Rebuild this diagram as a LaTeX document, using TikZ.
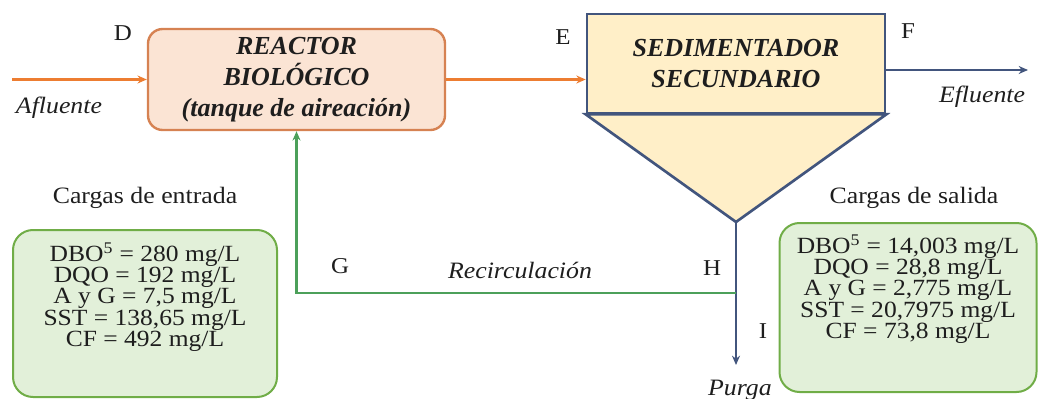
\documentclass[tikz,border=0pt]{standalone}
\usepackage{fontspec}
\setmainfont{Liberation Serif}
\newfontfamily\wide{Liberation Serif}[FakeStretch=1.1]
\usetikzlibrary{arrows.meta}
\definecolor{orangeln}{RGB}{237,125,49}
\definecolor{reactfill}{RGB}{251,228,212}
\definecolor{reactdraw}{RGB}{214,130,82}
\definecolor{sedfill}{RGB}{255,239,200}
\definecolor{seddraw}{RGB}{66,85,125}
\definecolor{boxfill}{RGB}{226,240,217}
\definecolor{boxdraw}{RGB}{112,173,71}
\definecolor{greenln}{RGB}{76,160,90}
\definecolor{txt}{RGB}{30,30,30}
\begin{document}
\lineskiplimit=-20pt\relax
\begin{tikzpicture}[x=0.75pt,y=-0.75pt,
  every node/.style={text=txt},
  unit/.style={font=\fontsize{19.5}{23}\selectfont\bfseries\itshape, align=center, inner sep=0pt},
  reactor/.style={unit, draw=reactdraw, line width=1.8pt, fill=reactfill, rounded corners=11pt,
    minimum width=222.75pt, minimum height=75.75pt},
  sedbox/.style={unit, draw=seddraw, line width=2pt, fill=sedfill,
    minimum width=223.5pt, minimum height=74.25pt},
  databox/.style={draw=boxdraw, line width=1.5pt, fill=boxfill, rounded corners=15pt},
  datatext/.style={font=\wide\fontsize{17.4}{15.9}\selectfont, align=center, inner sep=0pt},
  lbl/.style={font=\wide\fontsize{17}{18}\selectfont, inner sep=0pt},
  ilbl/.style={font=\wide\fontsize{17.6}{18}\selectfont\itshape, inner sep=0pt},
  head/.style={font=\wide\fontsize{17.6}{18}\selectfont, inner sep=0pt},
  tip/.style={-{Stealth[length=7pt,width=6pt]}},
  orangeline/.style={tip, draw=orangeln, line width=1.8pt},
  blueline/.style={tip, draw=seddraw, line width=1.9pt},
  greenline/.style={tip, draw=greenln, line width=1.8pt}
]
\useasboundingbox (0,0) rectangle (1038,399);

% units
\node[reactor] (R) at (296.5,79.5) {REACTOR\\BIOLÓGICO\\(tanque de aireación)};
\coordinate (apex) at (736,222);
\node[sedbox, text width=223.5pt] (S) at (736,63.5) {SEDIMENTADOR\\SECUNDARIO};
\draw[draw=seddraw, line width=2pt, fill=sedfill, line join=miter] (S.south west) -- (apex) -- (S.south east) -- cycle;

% flows
\coordinate (inL) at (12,79.5);
\draw[orangeline] (inL) -- (R.west);
\draw[orangeline] (R.east) -- (R.east -| S.west);
\coordinate (outF) at (1028,70);
\draw[blueline] (outF -| S.east) -- (outF);
\coordinate (purga) at (736,365);
\draw[blueline] (apex) -- (purga);
\coordinate (Hj) at (736,293);
\draw[greenline] (Hj) -| (R.south);

% point labels
\node[lbl] (lD) at (123,33) {D};
\node[lbl] (lE) at (563,37) {E};
\node[lbl] (lF) at (908,31) {F};
\node[lbl] (lG) at (340,266) {G};
\node[lbl] (lH) at (712,268) {H};
\node[lbl] (lI) at (763,331) {I};

% stream labels
\node[ilbl] (afl) at (59,108) {Afluente};
\node[ilbl] (efl) at (982,97) {Efluente};
\node[ilbl] (rec) at (520,270) {Recirculación};
\node[ilbl] (pur) at (740,390) {Purga};

% load boxes
\node[head] (hin) at (145,198) {Cargas de entrada};
\node[databox, minimum width=198pt, minimum height=125.25pt] (bin) at (145,313.5) {};
\node[datatext] (tin) at (145,297) {DBO\textsuperscript{5} = 280 mg/L\\DQO = 192 mg/L\\A y G = 7,5 mg/L\\SST = 138,65 mg/L\\CF = 492 mg/L};
\node[head] (hout) at (914,198) {Cargas de salida};
\node[databox, minimum width=192.75pt, minimum height=126.75pt] (bout) at (908,307.5) {};
\node[datatext] (tout) at (908,289) {DBO\textsuperscript{5} = 14,003 mg/L\\DQO = 28,8 mg/L\\A y G = 2,775 mg/L\\SST = 20,7975 mg/L\\CF = 73,8 mg/L};
\end{tikzpicture}
\end{document}
